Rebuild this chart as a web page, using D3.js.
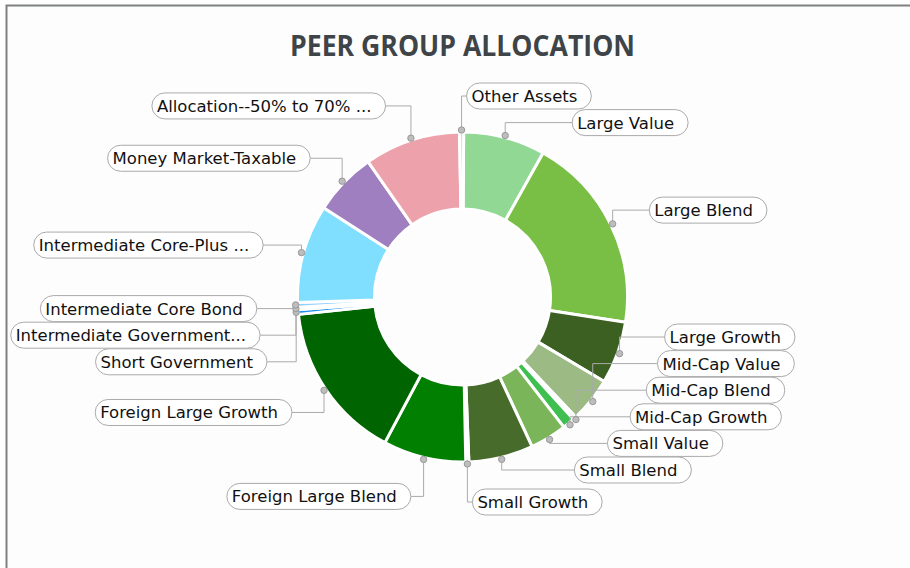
<!DOCTYPE html>
<html>
<head>
<meta charset="utf-8">
<script src="https://cdn.jsdelivr.net/npm/d3@7"></script>
<style>
  body { margin: 0; background: #fff; }
  .label text { font-family: "DejaVu Sans", sans-serif; font-size: 16.5px; fill: #111; }
</style>
</head>
<body>
<svg class="chart"></svg>
<script>
const categories = [
  'Large Value',
  'Large Blend',
  'Large Growth',
  'Mid-Cap Value',
  'Mid-Cap Blend',
  'Mid-Cap Growth',
  'Small Value',
  'Small Blend',
  'Small Growth',
  'Foreign Large Blend',
  'Foreign Large Growth',
  'Short Government',
  'Intermediate Government...',
  'Intermediate Core Bond',
  'Intermediate Core-Plus ...',
  'Money Market-Taxable',
  'Allocation--50% to 70% ...',
  'Other Assets'
];
const values = [8.0, 19.3, 6.1, 4.4, 0.3, 1.2, 3.6, 6.3, 0.3, 8.1, 15.5, 0.45, 0.25, 0.45, 9.6, 6.2, 9.4, 0.4];
const colors = [
  '#90d894', '#79be45', '#3c5f22', '#9bba84', '#5fae4a', '#3fbf50',
  '#7ab55a', '#466b2a', '#5a8a3a', '#007f00', '#006400', '#1d8ff0',
  '#a8dcff', '#8fd0ff', '#80deff', '#a07fc0', '#eda1ab', '#d8d8d8'
];

const width = 910,
  height = 568;
const cx = 462.5,
  cy = 297,
  outerR = 165,
  innerR = 88;
const labelR = 203,
  labelGap = 26.6,
  boxH = 26;
const offset = 0.4 * Math.PI / 180;

const data = categories.map((c, i) => ({ name: c, value: values[i], color: colors[i] }));

let chart = d3.select(".chart")
  .attr("width", width)
  .attr("height", height);

chart.append("rect")
  .attr("x", 7).attr("y", 6)
  .attr("width", width - 7).attr("height", height - 6)
  .attr("fill", "#fdfdfd");
chart.append("path")
  .attr("d", `M6.5,${height} V5.5 H${width}`)
  .attr("fill", "none")
  .attr("stroke", "#7e8181")
  .attr("stroke-width", 2);

chart.append("text")
  .attr("x", cx)
  .attr("y", 56)
  .attr("text-anchor", "middle")
  .attr("font-family", "'Open Sans', sans-serif")
  .attr("font-weight", 700)
  .attr("font-size", 29)
  .attr("fill", "#3e4447")
  .attr("textLength", 345)
  .attr("lengthAdjust", "spacingAndGlyphs")
  .text("PEER GROUP ALLOCATION");

let pie = d3.pie()
  .sort(null)
  .value(d => d.value)
  .startAngle(offset)
  .endAngle(offset + 2 * Math.PI);
let arc = d3.arc()
  .innerRadius(innerR)
  .outerRadius(outerR);

let arcs = pie(data);

let g = chart.append("g")
  .attr("transform", `translate(${cx},${cy})`);
g.selectAll("path")
  .data(arcs)
  .enter().append("path")
  .attr("d", arc)
  .attr("fill", d => d.data.color)
  .attr("stroke", "#fff")
  .attr("stroke-width", 3);

// label layout: dot on the rim, label pushed along a circle
const ly = cy + 2;
let labels = arcs.map(d => {
  let a = (d.startAngle + d.endAngle) / 2;
  let s = Math.sin(a);
  return {
    name: d.data.name,
    dx: cx + (outerR + 2) * s,
    dy: cy - (outerR + 2) * Math.cos(a),
    y: ly - labelR * Math.cos(a),
    straight: Math.abs(s) < 0.05,
    side: (s > 0 || Math.abs(s) < 0.05) ? 1 : -1
  };
});

[1, -1].forEach(side => {
  let list = labels.filter(l => l.side === side).sort((a, b) => a.y - b.y);
  for (let i = 1; i < list.length; i++) {
    list[i].y = Math.max(list[i].y, list[i - 1].y + labelGap);
  }
  let last = list[list.length - 1];
  last.y = Math.min(last.y, ly + labelR);
  for (let i = list.length - 2; i >= 0; i--) {
    let gap = list[i + 1].straight ? 32 : labelGap;
    list[i].y = Math.min(list[i].y, list[i + 1].y - gap);
  }
});

labels.forEach(l => {
  let ddy = l.y - cy;
  let r = labelR + 3;
  let off = Math.sqrt(Math.max(0, r * r - ddy * ddy));
  l.edge = l.straight ? l.dx + 5 : cx + l.side * off;
});

let lg = chart.append("g");
lg.selectAll("path")
  .data(labels)
  .enter().append("path")
  .attr("d", l => `M${l.dx},${l.dy} V${l.y} H${l.edge}`)
  .attr("fill", "none")
  .attr("stroke", "#aaa")
  .attr("stroke-width", 1);

lg.selectAll("circle")
  .data(labels)
  .enter().append("circle")
  .attr("cx", l => l.dx)
  .attr("cy", l => l.dy)
  .attr("r", 3.2)
  .attr("fill", "#bdbdbd")
  .attr("stroke", "#999")
  .attr("stroke-width", 1);

let boxes = lg.selectAll(".label")
  .data(labels)
  .enter().append("g")
  .attr("class", "label");
boxes.each(function(l) {
  let node = d3.select(this);
  let rect = node.append("rect");
  let t = node.append("text")
    .attr("dy", "0.36em")
    .text(l.name);
  let w = t.node().getComputedTextLength() + 19;
  let x0 = l.side > 0 ? l.edge : l.edge - w;
  t.attr("x", x0 + 5).attr("y", l.y);
  rect.attr("x", x0)
    .attr("y", l.y - boxH / 2)
    .attr("width", w)
    .attr("height", boxH)
    .attr("rx", 13)
    .attr("fill", "#fff")
    .attr("stroke", "#aaa")
    .attr("stroke-width", 1);
});
</script>
</body>
</html>
